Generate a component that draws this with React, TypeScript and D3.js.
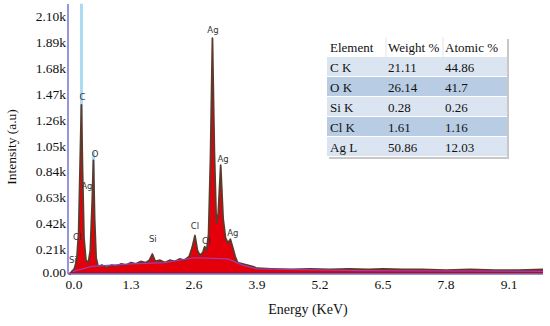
import React from 'react';
import * as d3 from 'd3';

// tick values (keV and kilo-counts)
const xTicks = [0, 1.3, 2.6, 3.9, 5.2, 6.5, 7.8, 9.1];
const yTicks = [0, 0.21, 0.42, 0.63, 0.84, 1.05, 1.26, 1.47, 1.68, 1.89, 2.1];

// spectrum: [energy keV, counts in k]
const spectrum: [number, number][] = [
  [0.03, 0.0], [0.08, 0.03], [0.13, 0.05], [0.18, 0.12], [0.22, 0.35], [0.25, 0.9],
  [0.277, 1.38], [0.3, 0.85], [0.33, 0.3], [0.37, 0.12], [0.42, 0.1], [0.46, 0.2],
  [0.5, 0.6], [0.525, 0.93], [0.55, 0.45], [0.58, 0.14], [0.62, 0.07], [0.7, 0.08],
  [0.8, 0.06], [0.9, 0.08], [1.0, 0.07], [1.1, 0.09], [1.2, 0.08], [1.3, 0.1],
  [1.4, 0.09], [1.5, 0.11], [1.6, 0.1], [1.68, 0.12], [1.74, 0.17], [1.8, 0.11],
  [1.9, 0.12], [2.0, 0.1], [2.1, 0.12], [2.2, 0.11], [2.3, 0.13], [2.4, 0.12],
  [2.5, 0.15], [2.56, 0.22], [2.62, 0.32], [2.67, 0.2], [2.72, 0.16], [2.78, 0.18],
  [2.82, 0.23], [2.86, 0.2], [2.9, 0.33], [2.94, 0.95], [2.98, 1.92], [3.02, 1.0],
  [3.06, 0.42], [3.1, 0.5], [3.15, 0.89], [3.2, 0.46], [3.25, 0.3], [3.3, 0.26],
  [3.35, 0.29], [3.4, 0.22], [3.45, 0.15], [3.5, 0.1], [3.6, 0.09], [3.7, 0.08],
  [3.8, 0.07], [3.9, 0.055], [4.2, 0.05], [4.6, 0.045], [5.0, 0.05], [5.4, 0.045],
  [5.8, 0.05], [6.2, 0.045], [6.5, 0.05], [6.9, 0.045], [7.3, 0.045], [7.8, 0.04],
  [8.3, 0.045], [8.8, 0.04], [9.3, 0.04], [9.8, 0.045],
];

// fitted background line
const background: [number, number][] = [
  [0.1, 0.03], [0.5, 0.07], [1.3, 0.09], [2.0, 0.1], [2.6, 0.14], [3.3, 0.13],
  [3.6, 0.08], [3.9, 0.05], [6.0, 0.035], [9.8, 0.03],
];

// element marker lines [energy, top]
const markers: [number, number][] = [[0.277, 2.2], [0.525, 1.0]];

// peak labels [text, energy, counts at baseline]
const peakLabels: [string, number, number][] = [
  ['C', 0.3, 1.42], ['O', 0.56, 0.96], ['Ag', 0.39, 0.7], ['Cl', 0.19, 0.28],
  ['Si', 0.1, 0.1], ['Si', 1.75, 0.27], ['Cl', 2.62, 0.37], ['Cl', 2.85, 0.25],
  ['Ag', 2.99, 1.96], ['Ag', 3.2, 0.92], ['Ag', 3.4, 0.32],
];

const elements = ['C K', 'O K', 'Si K', 'Cl K', 'Ag L'];
const weights = ['21.11', '26.14', '0.28', '1.61', '50.86'];
const atomics = ['44.86', '41.7', '0.26', '1.16', '12.03'];

const W = 550;
const H = 326;
const serif = '"Liberation Serif", "Times New Roman", serif';

const App: React.FC = () => {
  const x = d3.scaleLinear().domain([0, 9.8]).range([68, 543]);
  const y = d3.scaleLinear().domain([0, 2.1]).range([275, 16]);
  const base = y(0) - 3;

  const area = d3.area<[number, number]>()
    .x(d => x(d[0]))
    .y0(base)
    .y1(d => y(d[1]));
  const line = d3.line<[number, number]>()
    .x(d => x(d[0]))
    .y(d => y(d[1]));

  const tx = 327;
  const ty = 37;
  const rowH = 20;
  const cols = [tx + 3, tx + 61, tx + 118];

  return (
    <svg width={W} height={H} style={{ position: 'absolute', left: 0, top: 0, background: '#fff' }}>
      {/* marker lines */}
      {markers.map((m, i) => (
        <line key={i} x1={x(m[0])} x2={x(m[0])} y1={y(m[1])} y2={base}
          stroke="#a9dcf2" strokeWidth={3} />
      ))}

      {/* spectrum */}
      <path d={area(spectrum) || ''} fill="#e3000b" />
      <path d={line(spectrum) || ''} fill="none" stroke="#5e3a2c" strokeWidth={1.8} strokeLinejoin="round" />
      <path d={line(background) || ''} fill="none" stroke="#9a3fb0" strokeWidth={1.2} />
      <line x1={70} x2={543} y1={base + 1} y2={base + 1} stroke="#b0101a" strokeWidth={2} />

      {/* axes */}
      <line x1={68} x2={68} y1={4} y2={base + 2} stroke="#7373d6" strokeWidth={1.5} />
      <line x1={68} x2={543} y1={base + 2} y2={base + 2} stroke="#7373d6" strokeWidth={1.5} />

      {yTicks.map(t => (
        <text key={t} x={66} y={t === 0 ? y(t) + 2 : y(t) + 5} textAnchor="end" fontFamily={serif} fontSize={13.5} fill="#111">
          {t === 0 ? '0.00' : `${t.toFixed(2)}k`}
        </text>
      ))}
      {xTicks.map(t => (
        <text key={t} x={t === 0 ? x(t) + 6 : x(t)} y={289} textAnchor="middle" fontFamily={serif} fontSize={13.5} fill="#111">
          {t.toFixed(1)}
        </text>
      ))}

      <text x={308} y={314} textAnchor="middle" fontFamily={serif} fontSize={14} fill="#111">Energy (KeV)</text>
      <text transform={`translate(16,147) rotate(-90)`} textAnchor="middle" fontFamily={serif} fontSize={13.5} fill="#111">
        Intensity (a.u)
      </text>

      {/* peak labels */}
      {peakLabels.map((p, i) => (
        <text key={i} x={x(p[1])} y={y(p[2])} textAnchor="middle" fontFamily='"DejaVu Sans", sans-serif'
          fontSize={8.5} fill="#333">{p[0]}</text>
      ))}

      {/* table */}
      <rect x={tx + 2} y={ty + 2} width={180} height={rowH * 6} fill="#c8c8c8" />
      <rect x={tx} y={ty} width={180} height={rowH * 6} fill="#fff" />
      {elements.map((e, i) => (
        <g key={e}>
          <rect x={tx} y={ty + rowH * (i + 1)} width={180} height={rowH - 1}
            fill={i % 2 === 0 ? '#dbe5f1' : '#b8cce4'} />
          <text x={cols[0]} y={ty + rowH * (i + 1) + 15} fontFamily={serif} fontSize={13} fill="#111">{e}</text>
          <text x={cols[1]} y={ty + rowH * (i + 1) + 15} fontFamily={serif} fontSize={13} fill="#111">{weights[i]}</text>
          <text x={cols[2]} y={ty + rowH * (i + 1) + 15} fontFamily={serif} fontSize={13} fill="#111">{atomics[i]}</text>
        </g>
      ))}
      <line x1={cols[1] - 2} x2={cols[1] - 2} y1={ty} y2={ty + rowH} stroke="#e4e4e4" />
      <line x1={cols[2] - 2} x2={cols[2] - 2} y1={ty} y2={ty + rowH} stroke="#e4e4e4" />
      <text x={cols[0]} y={ty + 15} fontFamily={serif} fontSize={13} fill="#111">Element</text>
      <text x={cols[1]} y={ty + 15} fontFamily={serif} fontSize={13} fill="#111">Weight %</text>
      <text x={cols[2]} y={ty + 15} fontFamily={serif} fontSize={13} fill="#111">Atomic %</text>
    </svg>
  );
};

export default App;
